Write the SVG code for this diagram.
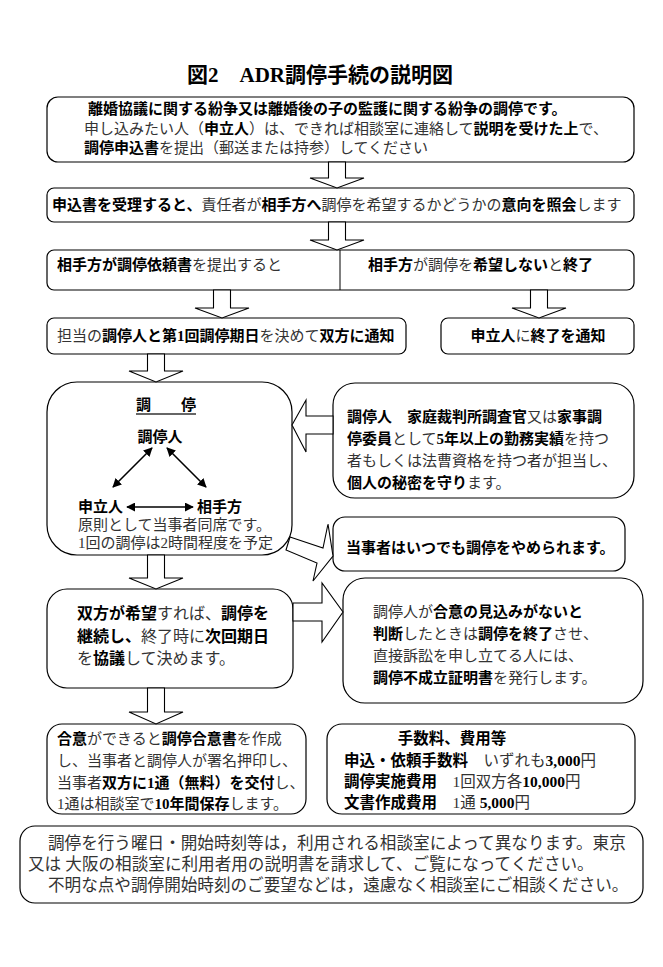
<svg xmlns="http://www.w3.org/2000/svg" width="663" height="967" viewBox="0 0 663 967">
<style>
text{font-family:"Liberation Serif","Noto Sans CJK JP",serif;font-size:15px;fill:#333}
.b{font-weight:bold;fill:#000}
.box{fill:#fff;stroke:#000;stroke-width:1.2}
.arr{fill:#fff;stroke:#000;stroke-width:1.1;stroke-linejoin:miter}
.dbl{stroke:#000;stroke-width:1.6;fill:none;marker-start:url(#ah);marker-end:url(#ah)}
</style>
<defs>
<marker id="ah" viewBox="0 0 10 10" refX="9" refY="5" markerWidth="9" markerHeight="9" orient="auto-start-reverse" markerUnits="userSpaceOnUse"><path d="M0,0 L10,5 L0,10 z" fill="#000"/></marker>
</defs>
<rect width="663" height="967" fill="#fff"/>

<g id="title"><text x="320" y="82" text-anchor="middle" class="b" style="font-size:21px" xml:space="preserve">図2　ADR調停手続の説明図</text></g>

<g id="n1">
<rect class="box" x="47" y="97" width="587" height="65" rx="11"/>
<text x="88" y="114" class="b">離婚協議に関する紛争又は離婚後の子の監護に関する紛争の調停です。</text>
<text x="84" y="134">申し込みたい人（<tspan class="b">申立人</tspan>）は、できれば相談室に連絡して<tspan class="b">説明を受けた上</tspan>で、</text>
<text x="84" y="153"><tspan class="b">調停申込書</tspan>を提出（郵送または持参）してください</text>
</g>

<g id="n2">
<rect class="box" x="47" y="188" width="587" height="34" rx="7"/>
<text x="52" y="210"><tspan class="b">申込書を受理すると、</tspan>責任者が<tspan class="b">相手方へ</tspan>調停を希望するかどうかの<tspan class="b">意向を照会</tspan>します</text>
</g>

<g id="n3">
<rect class="box" x="47" y="250" width="587" height="40" rx="7"/>
<line x1="340" y1="250" x2="340" y2="290" stroke="#000" stroke-width="1"/>
<text x="57" y="270"><tspan class="b">相手方が調停依頼書</tspan>を提出すると</text>
<text x="368" y="270"><tspan class="b">相手方</tspan>が調停を<tspan class="b">希望しない</tspan>と<tspan class="b">終了</tspan></text>
</g>

<g id="n4">
<rect class="box" x="47" y="318" width="359" height="36" rx="7"/>
<text x="57" y="341">担当の<tspan class="b">調停人と第1回調停期日</tspan>を決めて<tspan class="b">双方に通知</tspan></text>
</g>

<g id="n5">
<rect class="box" x="441" y="318" width="193" height="36" rx="7"/>
<text x="538" y="341" text-anchor="middle"><tspan class="b">申立人</tspan>に<tspan class="b">終了を通知</tspan></text>
</g>

<g id="n6">
<rect class="box" x="47" y="382" width="245" height="173" rx="30"/>
<text x="136" y="410" class="b" xml:space="preserve">調　　停</text>
<line x1="136" y1="414" x2="196" y2="414" stroke="#333" stroke-width="1.5"/>
<text x="160" y="442" class="b" text-anchor="middle">調停人</text>
<line class="dbl" x1="113" y1="487" x2="152" y2="448"/>
<line class="dbl" x1="167" y1="448" x2="206" y2="487"/>
<line class="dbl" x1="127" y1="507" x2="193" y2="507"/>
<text x="78" y="512" class="b">申立人</text>
<text x="197" y="512" class="b">相手方</text>
<text x="78" y="530">原則として当事者同席です。</text>
<text x="78" y="548">1回の調停は2時間程度を予定</text>
</g>

<g id="n7">
<rect class="box" x="333" y="383" width="301" height="115" rx="22"/>
<text x="347" y="422"><tspan class="b">調停人　家庭裁判所調査官</tspan>又は<tspan class="b">家事調</tspan></text>
<text x="347" y="444"><tspan class="b">停委員</tspan>として<tspan class="b">5年以上の勤務実績</tspan>を持つ</text>
<text x="347" y="466">者もしくは法曹資格を持つ者が担当し、</text>
<text x="347" y="488"><tspan class="b">個人の秘密を守り</tspan>ます。</text>
</g>

<g id="n8">
<rect class="box" x="333" y="517" width="292" height="54" rx="12"/>
<text x="346" y="553" class="b">当事者はいつでも調停をやめられます。</text>
</g>

<g id="n9">
<rect class="box" x="47" y="589" width="246" height="99" rx="20"/>
<text x="77" y="619" style="font-size:16px"><tspan class="b">双方が希望</tspan>すれば、<tspan class="b">調停を</tspan></text>
<text x="77" y="642" style="font-size:16px"><tspan class="b">継続し、</tspan>終了時に<tspan class="b">次回期日</tspan></text>
<text x="77" y="664" style="font-size:16px">を<tspan class="b">協議</tspan>して決めます。</text>
</g>

<g id="n10">
<rect class="box" x="343" y="578" width="300" height="125" rx="22"/>
<text x="373" y="617">調停人が<tspan class="b">合意の見込みがないと</tspan></text>
<text x="373" y="639"><tspan class="b">判断</tspan>したときは<tspan class="b">調停を終了</tspan>させ、</text>
<text x="373" y="661">直接訴訟を申し立てる人には、</text>
<text x="373" y="683"><tspan class="b">調停不成立証明書</tspan>を発行します。</text>
</g>

<g id="n11">
<rect class="box" x="47" y="724" width="259" height="90" rx="15"/>
<text x="57" y="744"><tspan class="b">合意</tspan>ができると<tspan class="b">調停合意書</tspan>を作成</text>
<text x="57" y="766">し、当事者と調停人が署名押印し、</text>
<text x="57" y="788">当事者<tspan class="b">双方に1通（無料）を交付</tspan>し、</text>
<text x="57" y="809">1通は相談室で<tspan class="b">10年間保存</tspan>します。</text>
</g>

<g id="n12">
<rect class="box" x="327" y="724" width="308" height="90" rx="15"/>
<text x="452" y="744" class="b" text-anchor="middle" style="font-size:15.5px">手数料、費用等</text>
<text x="344" y="766" style="font-size:15.5px" xml:space="preserve"><tspan class="b">申込・依頼手数料</tspan>　いずれも<tspan class="b">3,000</tspan>円</text>
<text x="344" y="787" style="font-size:15.5px" xml:space="preserve"><tspan class="b">調停実施費用</tspan>　1回双方各<tspan class="b">10,000</tspan>円</text>
<text x="344" y="808" style="font-size:15.5px" xml:space="preserve"><tspan class="b">文書作成費用</tspan>　1通 <tspan class="b">5,000</tspan>円</text>
</g>

<g id="n13">
<rect class="box" x="20" y="826" width="623" height="77" rx="15"/>
<text x="48" y="849" style="font-size:16.6px">調停を行う曜日・開始時刻等は，利用される相談室によって異なります。東京</text>
<text x="28" y="870" style="font-size:16.6px" xml:space="preserve">又は 大阪の相談室に利用者用の説明書を請求して、ご覧になってください。</text>
<text x="48" y="891" style="font-size:16.6px">不明な点や調停開始時刻のご要望などは，遠慮なく相談室にご相談ください。</text>
</g>

<g id="connectors">
<polygon class="arr" points="328.5,162 345.5,162 345.5,178 364,178 337,188 310,178 328.5,178"/>
<polygon class="arr" points="328.5,222 345.5,222 345.5,240 364,240 337,250 310,240 328.5,240"/>
<polygon class="arr" points="213.5,290 230.5,290 230.5,308 249,308 222,318 195,308 213.5,308"/>
<polygon class="arr" points="530.5,290 547.5,290 547.5,308 566,308 539,318 512,308 530.5,308"/>
<polygon class="arr" points="147.5,354 164.5,354 164.5,371 183,371 156,382 129,371 147.5,371"/>
<polygon class="arr" points="147.5,555 164.5,555 164.5,578 183,578 156,589 129,578 147.5,578"/>
<polygon class="arr" points="147.5,688 164.5,688 164.5,712 183,712 156,724 129,712 147.5,712"/>
<polygon class="arr" points="333,416 306,416 306,400 292,425 306,452 306,434 333,434"/>
<polygon class="arr" points="293,603 322,603 322,583 343,612 322,642 322,621 293,621"/>
<polygon class="arr" points="290,537 323,548 328,524 333,556 313,581 317,563 286,550"/>
</g>
</svg>
